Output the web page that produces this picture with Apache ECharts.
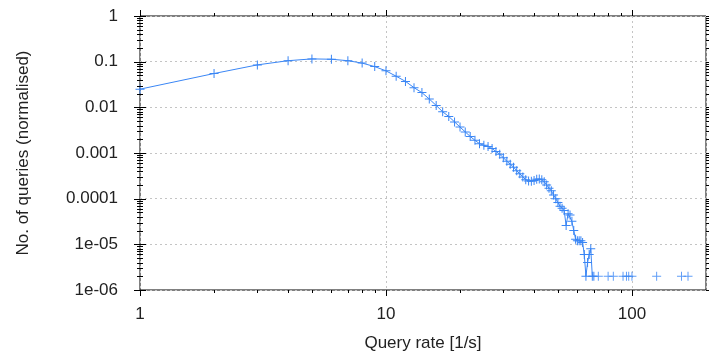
<!DOCTYPE html>
<html>
<head>
<meta charset="utf-8">
<script src="https://cdn.jsdelivr.net/npm/echarts@6/dist/echarts.min.js"></script>
<style>
  html, body {margin: 0; padding: 0; background: #fff;}
  #chart {width: 709px; height: 357px;}
</style>
</head>
<body>
<div id="chart"></div>
<script>
// query rate [1/s] and normalised number of queries
const rates = [
  1, 2, 3, 4, 5, 6, 7, 8, 9, 10,
  11, 12, 13, 14, 15, 16, 17, 18, 19, 20,
  21, 22, 23, 24, 25, 26, 27, 28, 29, 30,
  31, 32, 33, 34, 35, 36, 37, 38, 39, 40,
  41, 42, 43, 44, 45, 46, 47, 48, 49, 50,
  51, 52, 53, 54, 55, 56, 57, 58, 59, 60,
  61, 62, 63, 64, 65, 66, 67, 68, 69, 70
];
const shares = [
  0.025, 0.055, 0.085, 0.105, 0.115, 0.113, 0.105, 0.093, 0.078, 0.063,
  0.048, 0.037, 0.027, 0.021, 0.0152, 0.011, 0.008, 0.0063, 0.0048, 0.0037,
  0.0029, 0.0023, 0.0019, 0.0016, 0.00148, 0.00138, 0.00125, 0.00108, 0.00094, 0.00079,
  0.00066, 0.00057, 0.00049, 0.00041, 0.00035, 0.0003, 0.00026, 0.000245, 0.00024, 0.00025,
  0.000265, 0.00027, 0.00026, 0.000235, 0.0002, 0.00017, 0.00015, 0.00012, 0.0001, 0.000082,
  0.000068, 0.000062, 0.000055, 0.000026, 0.000047, 0.000044, 0.000032, 0.00002, 0.000013, 0.000012,
  0.000012, 0.000012, 0.000011, 0.000006, 0.000002, 0.000004, 0.000006, 0.000008, 0.000002, 0.000002
];
// isolated single-query rates (not joined by a line)
const tailRates = [73, 80, 84, 92, 95, 97, 100, 126, 159, 169];
const tailShares = [0.000002, 0.000002, 0.000002, 0.000002, 0.000002, 0.000002, 0.000002, 0.000002, 0.000002, 0.000002];

const xMajorTicks = [1, 10, 100];
const xMinorTicks = [2, 3, 4, 5, 6, 7, 8, 9, 20, 30, 40, 50, 60, 70, 80, 90];
const yMajorTicks = [1e-6, 1e-5, 1e-4, 1e-3, 1e-2, 1e-1, 1];
const yTickLabels = ['1e-06', '1e-05', '0.0001', '0.001', '0.01', '0.1', '1'];
const xTickLabels = ['1', '10', '100'];

const X_MIN = 1, X_MAX = 200, Y_MIN = 1e-6, Y_MAX = 1;
const blue = '#3a86f5';
const plus = 'path://M4,0h1v9h-1zM0,4h9v1h-9z';
const font = "'Liberation Sans', Arial, sans-serif";

const yMinorTicks = [];
for (let e = -6; e < 0; e++) {
  for (let m = 2; m <= 9; m++) yMinorTicks.push(m * Math.pow(10, e));
}

const tickData = [];
xMajorTicks.forEach(v => tickData.push([v, Y_MIN, 0, 1]));
xMinorTicks.forEach(v => tickData.push([v, Y_MIN, 0, 0]));
yMajorTicks.forEach(v => tickData.push([X_MIN, v, 1, 1]));
yMinorTicks.forEach(v => tickData.push([X_MIN, v, 1, 0]));

function seg(x1, y1, x2, y2) {
  return {type: 'line', shape: {x1, y1, x2, y2}, style: {stroke: '#000', lineWidth: 1}};
}

function renderTick(params, api) {
  const kind = api.value(2);
  const len = api.value(3) ? 6 : 3;
  if (kind === 0) {
    const b = api.coord([api.value(0), Y_MIN]);
    const t = api.coord([api.value(0), Y_MAX]);
    const x = Math.round(b[0]) + 0.5;
    return {type: 'group', children: [
      seg(x, b[1], x, b[1] + len),
      seg(x, t[1], x, t[1] - len)
    ]};
  }
  const l = api.coord([X_MIN, api.value(1)]);
  const r = api.coord([X_MAX, api.value(1)]);
  const y = Math.round(l[1]) + 0.5;
  return {type: 'group', children: [
    seg(l[0] - len, y, l[0] + len, y),
    seg(r[0], y, r[0] + len, y)
  ]};
}

const chart = echarts.init(document.getElementById('chart'));
chart.setOption({
  animation: false,
  textStyle: {fontFamily: font},
  grid: {
    left: 140, right: 2, top: 16, bottom: 65,
    show: true, borderColor: '#000', borderWidth: 1, backgroundColor: 'transparent'
  },
  xAxis: {
    type: 'log',
    logBase: 10,
    min: X_MIN,
    max: X_MAX,
    name: 'Query rate [1/s]',
    nameLocation: 'middle',
    nameGap: 45,
    nameTextStyle: {fontSize: 17, color: '#222', fontFamily: font},
    axisLine: {show: false},
    axisTick: {show: false},
    axisLabel: {
      fontSize: 17, color: '#222', margin: 16, fontFamily: font,
      formatter: v => {
        const i = xMajorTicks.findIndex(t => Math.abs(t - v) / t < 1e-6);
        return i >= 0 ? xTickLabels[i] : '';
      }
    },
    splitLine: {show: true, lineStyle: {color: '#c4c4c4', type: [2, 3], width: 1}}
  },
  yAxis: {
    type: 'log',
    logBase: 10,
    min: Y_MIN,
    max: Y_MAX,
    name: 'No. of queries (normalised)',
    nameLocation: 'middle',
    nameGap: 108,
    nameTextStyle: {fontSize: 17, color: '#222', fontFamily: font},
    axisLine: {show: false},
    axisTick: {show: false},
    axisLabel: {
      fontSize: 17, color: '#222', margin: 22, fontFamily: font,
      formatter: v => yTickLabels[Math.round(Math.log10(v)) + 6] || ''
    },
    splitLine: {show: true, lineStyle: {color: '#c4c4c4', type: [2, 3], width: 1}}
  },
  series: [
    {
      type: 'line',
      data: rates.map((r, i) => [r, shares[i]]),
      symbol: plus,
      symbolSize: 9,
      showAllSymbol: true,
      lineStyle: {color: blue, width: 1},
      itemStyle: {color: blue},
      z: 3
    },
    {
      type: 'scatter',
      data: tailRates.map((r, i) => [r, tailShares[i]]),
      symbol: plus,
      symbolSize: 9,
      itemStyle: {color: blue},
      z: 3
    },
    {
      type: 'custom',
      data: tickData,
      renderItem: renderTick,
      clip: false,
      silent: true,
      z: 4
    }
  ]
});
</script>
</body>
</html>
